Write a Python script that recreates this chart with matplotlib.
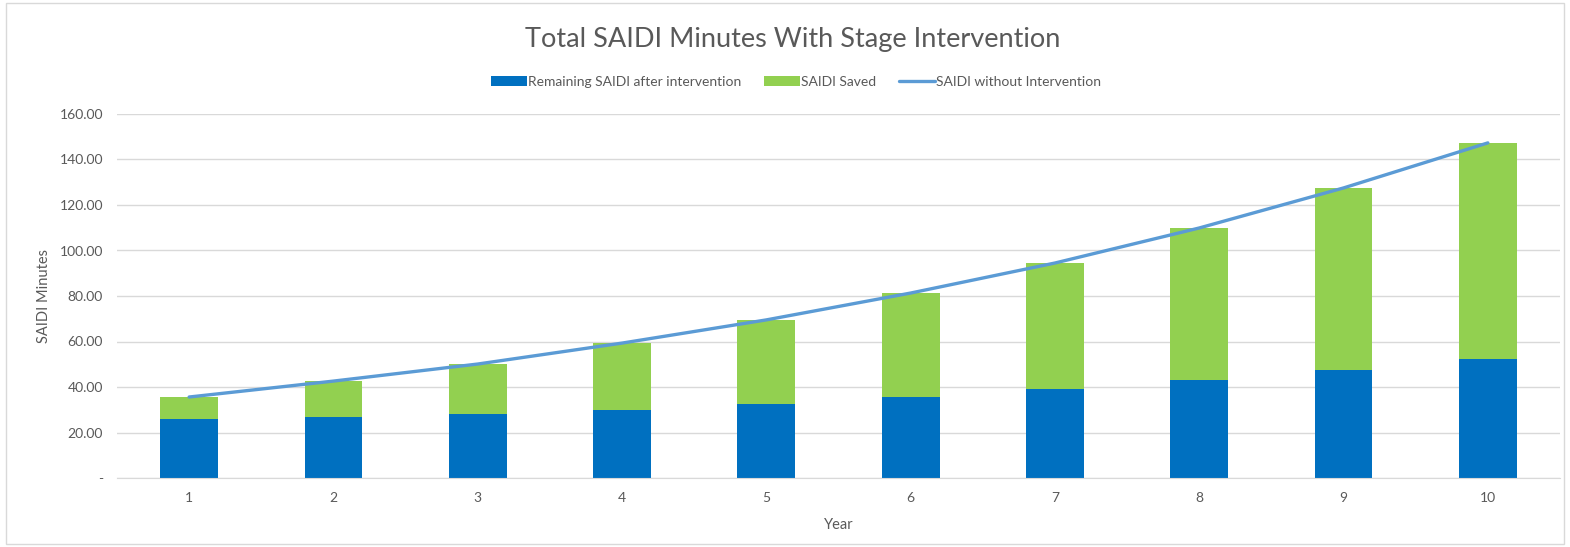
import matplotlib.pyplot as plt
from matplotlib.patches import Rectangle
from matplotlib.ticker import FuncFormatter

plt.rcParams['font.family'] = ['Lato', 'DejaVu Sans']

years = [1, 2, 3, 4, 5, 6, 7, 8, 9, 10]
remaining = [25.9, 26.8, 28.1, 29.9, 32.5, 35.6, 39.1, 43.1, 47.5, 52.3]
without = [35.6, 42.6, 50.1, 59.3, 69.5, 81.3, 94.5, 109.9, 127.5, 147.3]
saved = [w - r for w, r in zip(without, remaining)]

fig = plt.figure(figsize=(15.7, 5.47), dpi=100)
ax = fig.add_axes([117 / 1570, 69 / 547, 1443 / 1570, 364 / 547])

x = list(range(len(years)))
b1 = ax.bar(x, remaining, width=0.4, color='#0070C0', label='Remaining SAIDI after intervention', zorder=2)
b2 = ax.bar(x, saved, width=0.4, bottom=remaining, color='#92D050', label='SAIDI Saved', zorder=2)
l1, = ax.plot(x, without, color='#5B9BD5', linewidth=2.4, label='SAIDI without Intervention', zorder=3,
              solid_capstyle='round')

ax.set_xlim(-0.5, len(years) - 0.5)
ax.set_ylim(0, 160)
ax.set_yticks(range(0, 161, 20))
ax.yaxis.set_major_formatter(FuncFormatter(lambda v, p: '-' if v == 0 else f'{v:.2f}'))
ax.set_xticks(x)
ax.set_xticklabels([str(y) for y in years])
ax.grid(axis='y', color='#D9D9D9', linewidth=1, zorder=0)
ax.tick_params(length=0, labelsize=10, colors='#595959', pad=10)
ax.tick_params(axis='x', pad=10)
for s in ['top', 'right', 'left']:
    ax.spines[s].set_visible(False)
ax.spines['bottom'].set_color('#D9D9D9')

ax.set_xlabel('Year', fontsize=10.5, color='#595959', labelpad=10)
ax.set_ylabel('SAIDI Minutes', fontsize=10.5, color='#595959', labelpad=6)

fig.text(0.505, 0.928, 'Total SAIDI Minutes With Stage Intervention', ha='center', va='center',
         fontsize=19.5, color='#595959')
fig.legend([b1, b2, l1], [b1.get_label(), b2.get_label(), l1.get_label()],
           loc='center', bbox_to_anchor=(0.507, 0.851), ncol=3, frameon=False, fontsize=10,
           labelcolor='#595959', handlelength=2.6, handleheight=0.7, handletextpad=0.1, columnspacing=1.6)

fig.patches.append(Rectangle((0.004, 0.005), 0.992, 0.99, transform=fig.transFigure,
                             fill=False, edgecolor='#D9D9D9', linewidth=1))

fig.savefig('out.png', dpi=100)
